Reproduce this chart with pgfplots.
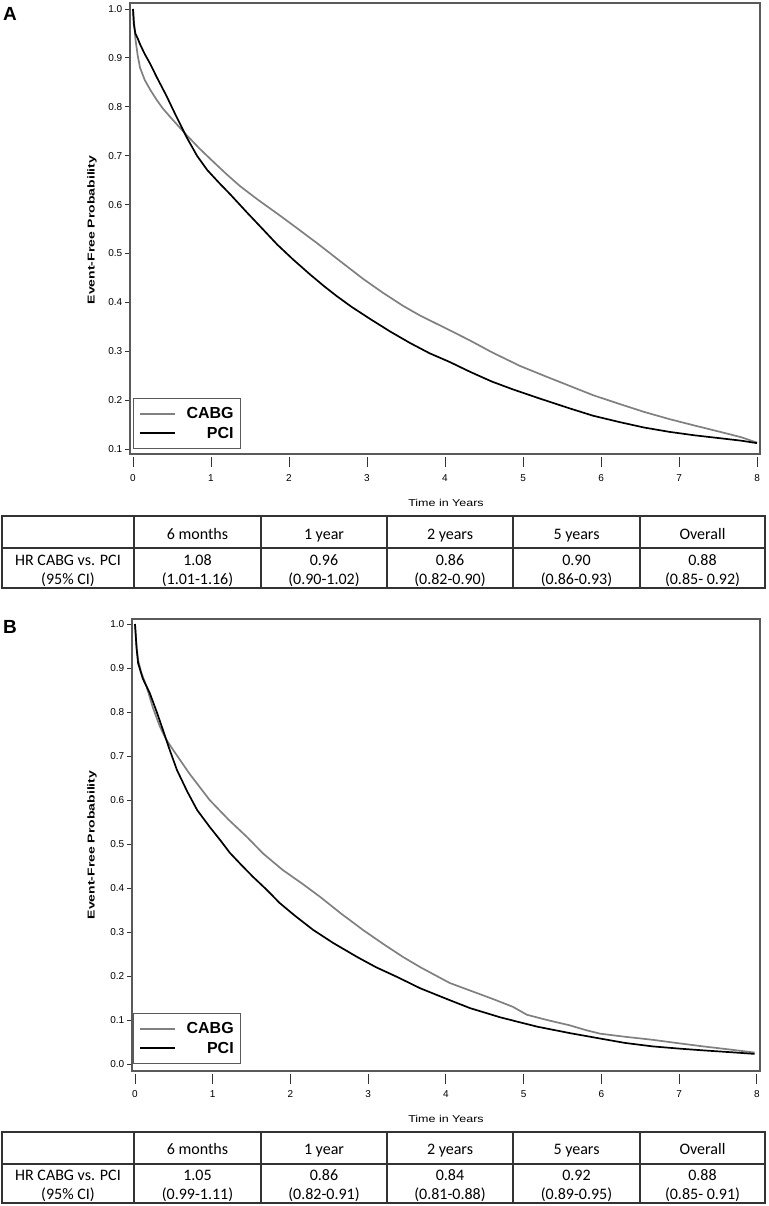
\documentclass[border=0pt]{standalone}
\usepackage{pgfplots}
\pgfplotsset{compat=1.18}
\usepackage{graphicx}
\usepackage{fontspec}
\setmainfont{Liberation Sans}
\newfontfamily\calibri{Carlito}
\definecolor{cabg}{RGB}{128,128,128}
\definecolor{frame}{RGB}{90,90,90}

\pgfplotstableread{
t s
0 1.0
0.01 0.98
0.03 0.94
0.06 0.905
0.09 0.88
0.15 0.855
0.22 0.835
0.30 0.815
0.38 0.797
0.50 0.775
0.67 0.745
0.85 0.715
1.0 0.692
1.2 0.662
1.37 0.638
1.6 0.610
1.88 0.578
2.1 0.552
2.36 0.521
2.65 0.485
2.95 0.448
3.2 0.42
3.46 0.393
3.68 0.373
4.06 0.343
4.32 0.322
4.6 0.298
4.96 0.270
5.3 0.248
5.6 0.229
5.9 0.21
6.24 0.192
6.55 0.176
6.88 0.161
7.2 0.148
7.53 0.135
7.8 0.124
8.0 0.113
}\cabgA
\pgfplotstableread{
t s
0 1.0
0.01 0.97
0.03 0.95
0.06 0.94
0.09 0.928
0.15 0.908
0.22 0.888
0.30 0.862
0.43 0.822
0.55 0.782
0.69 0.737
0.82 0.70
0.95 0.671
1.1 0.645
1.24 0.622
1.46 0.584
1.65 0.552
1.85 0.518
2.05 0.488
2.27 0.457
2.45 0.433
2.61 0.413
2.8 0.391
3.04 0.366
3.3 0.34
3.55 0.317
3.8 0.296
4.06 0.278
4.32 0.258
4.6 0.238
4.87 0.222
5.2 0.204
5.6 0.183
5.9 0.168
6.24 0.155
6.55 0.144
6.88 0.135
7.2 0.128
7.53 0.122
7.8 0.117
8.0 0.112
}\pciA
\pgfplotstableread{
t s
0 1.0
0.02 0.95
0.04 0.918
0.08 0.89
0.15 0.857
0.23 0.81
0.32 0.767
0.40 0.738
0.49 0.714
0.7 0.66
0.96 0.60
1.2 0.556
1.44 0.516
1.65 0.478
1.90 0.441
2.15 0.41
2.38 0.38
2.65 0.342
2.93 0.305
3.2 0.272
3.45 0.243
3.67 0.22
4.05 0.184
4.31 0.167
4.6 0.148
4.86 0.13
5.04 0.112
5.3 0.1
5.59 0.088
5.8 0.077
5.98 0.069
6.3 0.062
6.66 0.055
7.0 0.047
7.31 0.040
7.65 0.033
7.97 0.026
}\cabgB
\pgfplotstableread{
t s
0 1.0
0.02 0.945
0.04 0.911
0.1 0.876
0.19 0.843
0.28 0.80
0.36 0.759
0.45 0.712
0.54 0.668
0.67 0.62
0.80 0.577
0.96 0.539
1.1 0.508
1.22 0.48
1.37 0.452
1.52 0.425
1.7 0.395
1.86 0.366
2.05 0.338
2.29 0.305
2.55 0.275
2.86 0.243
3.1 0.22
3.37 0.198
3.67 0.172
4.05 0.145
4.31 0.127
4.7 0.106
5.17 0.085
5.6 0.07
5.98 0.058
6.3 0.048
6.66 0.040
7.0 0.035
7.31 0.031
7.65 0.027
7.97 0.023
}\pciB

\pgfplotsset{kmaxis/.style={
  scale only axis, anchor=south west,
  axis line style={frame, line width=1.2pt},
  tick style={black!80, line width=1pt},
  tick align=outside,
  xtick pos=left, ytick pos=left,
  xtick={0,1,2,3,4,5,6,7,8},
  xtick style={/pgfplots/major tick length=10pt, yshift=-3pt},
  ytick style={/pgfplots/major tick length=5pt},
  ticklabel style={font=\fontsize{10}{11}\selectfont, text=black},
  /pgf/number format/assume math mode=true,
  yticklabel style={/pgf/number format/.cd, fixed, fixed zerofill, precision=1},
  legend cell align=right,
  legend image code/.code={\draw[#1, line width=2pt] (0pt,0pt) -- (35pt,0pt); \path (44pt,0pt);},
  legend style={anchor=south west, draw=frame, line width=1pt,
     font=\bfseries\fontsize{16}{17}\selectfont, row sep=3pt, inner xsep=5pt, inner ysep=7pt},
}}

\begin{document}
\begin{tikzpicture}
\useasboundingbox (0pt,0pt) rectangle (768pt,-1206pt);

% ---------- Panel A ----------
\node[anchor=north west, inner sep=0pt, font=\bfseries\fontsize{19}{20}\selectfont] at (3pt,-7pt) {A};
\begin{axis}[kmaxis, at={(130pt,-454pt)}, width=630pt, height=451pt,
  xmin=-0.0385, xmax=8.038, ymin=0.0898, ymax=1.0123, ytick={0.1,0.2,...,1.0},
  xticklabel style={yshift=-13pt},
  legend style={at={(0.005,0.011)}}]
\addplot[cabg, line width=1.7pt] table[x=t,y=s] {\cabgA};
\addlegendentry{CABG}
\addplot[black, line width=1.7pt] table[x=t,y=s] {\pciA};
\addlegendentry{PCI}
\end{axis}
\node[rotate=90, font=\bfseries\fontsize{10}{11}\selectfont] at (92pt,-230pt) {\scalebox{1.4}[1]{Event-Free Probability}};
\node[font=\fontsize{10}{11}\selectfont] at (446pt,-503pt) {\scalebox{1.25}[1]{Time in Years}};

% table A
\begin{scope}[line width=1.5pt, draw=black!80]
\draw (2pt,-516pt) rectangle (765pt,-588pt);
\draw (2pt,-548pt) -- (765pt,-548pt);
\foreach \x in {134,261,387,513,640} \draw (\x pt,-516pt) -- (\x pt,-588pt);
\end{scope}
\begin{scope}[every node/.style={anchor=base, inner sep=0pt, font=\calibri\fontsize{16}{17}\selectfont, text=black}]
\node at (197.5pt,-539pt) {6 months};
\node at (324pt,-539pt) {1 year};
\node at (450pt,-539pt) {2 years};
\node at (576.5pt,-539pt) {5 years};
\node at (702.5pt,-539pt) {Overall};
\node at (68pt,-565pt) {HR CABG vs. PCI};
\node at (68pt,-584pt) {(95\% CI)};
\node at (197.5pt,-565pt) {1.08};
\node at (197.5pt,-584pt) {(1.01-1.16)};
\node at (324pt,-565pt) {0.96};
\node at (324pt,-584pt) {(0.90-1.02)};
\node at (450pt,-565pt) {0.86};
\node at (450pt,-584pt) {(0.82-0.90)};
\node at (576.5pt,-565pt) {0.90};
\node at (576.5pt,-584pt) {(0.86-0.93)};
\node at (702.5pt,-565pt) {0.88};
\node at (702.5pt,-584pt) {(0.85- 0.92)};
\end{scope}

% ---------- Panel B ----------
\node[anchor=north west, inner sep=0pt, font=\bfseries\fontsize{19}{20}\selectfont] at (3pt,-620pt) {B};
\begin{axis}[kmaxis, at={(132pt,-1071pt)}, width=628pt, height=452pt,
  xmin=-0.0386, xmax=8.039, ymin=-0.0159, ymax=1.0114, ytick={0,0.1,...,1.0},
  xticklabel style={yshift=-12pt},
  legend style={at={(0.002,0.015)}}]
\addplot[cabg, line width=1.7pt] table[x=t,y=s] {\cabgB};
\addlegendentry{CABG}
\addplot[black, line width=1.7pt] table[x=t,y=s] {\pciB};
\addlegendentry{PCI}
\end{axis}
\node[rotate=90, font=\bfseries\fontsize{10}{11}\selectfont] at (92pt,-845pt) {\scalebox{1.4}[1]{Event-Free Probability}};
\node[font=\fontsize{10}{11}\selectfont] at (446pt,-1119pt) {\scalebox{1.25}[1]{Time in Years}};

% table B
\begin{scope}[line width=1.5pt, draw=black!80]
\draw (2pt,-1132pt) rectangle (765pt,-1203pt);
\draw (2pt,-1164pt) -- (765pt,-1164pt);
\foreach \x in {134,261,387,513,640} \draw (\x pt,-1132pt) -- (\x pt,-1203pt);
\end{scope}
\begin{scope}[every node/.style={anchor=base, inner sep=0pt, font=\calibri\fontsize{16}{17}\selectfont, text=black}]
\node at (197.5pt,-1154pt) {6 months};
\node at (324pt,-1154pt) {1 year};
\node at (450pt,-1154pt) {2 years};
\node at (576.5pt,-1154pt) {5 years};
\node at (702.5pt,-1154pt) {Overall};
\node at (68pt,-1180pt) {HR CABG vs. PCI};
\node at (68pt,-1199pt) {(95\% CI)};
\node at (197.5pt,-1180pt) {1.05};
\node at (197.5pt,-1199pt) {(0.99-1.11)};
\node at (324pt,-1180pt) {0.86};
\node at (324pt,-1199pt) {(0.82-0.91)};
\node at (450pt,-1180pt) {0.84};
\node at (450pt,-1199pt) {(0.81-0.88)};
\node at (576.5pt,-1180pt) {0.92};
\node at (576.5pt,-1199pt) {(0.89-0.95)};
\node at (702.5pt,-1180pt) {0.88};
\node at (702.5pt,-1199pt) {(0.85- 0.91)};
\end{scope}
\end{tikzpicture}
\end{document}
